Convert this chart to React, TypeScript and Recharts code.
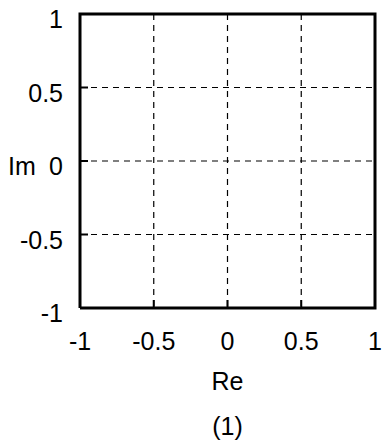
import React from "react";
import {
  ScatterChart,
  Scatter,
  XAxis,
  YAxis,
  CartesianGrid,
} from "recharts";

const reTicks = [-1, -0.5, 0, 0.5, 1];
const imTicks = [-1, -0.5, 0, 0.5, 1];
// plot frame, traced round the corners of the unit square
const frameRe = [-1, 1, 1, -1, -1];
const frameIm = [-1, -1, 1, 1, -1];
const frame = frameRe.map((re, i) => ({ re, im: frameIm[i] }));

const FONT = "'Liberation Sans', Arial, sans-serif";
const FS = 25;
const TICK_LEN = 8;

const BottomTick = (props: any) => {
  const { x, y, payload } = props;
  return (
    <g>
      <line x1={x} x2={x} y1={y} y2={y - TICK_LEN} stroke="#000" strokeWidth={2} />
      <text x={x} y={y + 33} textAnchor="middle" dominantBaseline="central" fontSize={FS} fontFamily={FONT} fill="#000">
        {payload.value}
      </text>
    </g>
  );
};

const TopTick = (props: any) => {
  const { x, y } = props;
  return <line x1={x} x2={x} y1={y} y2={y + TICK_LEN} stroke="#000" strokeWidth={2} />;
};

const LeftTick = (props: any) => {
  const { x, y, payload } = props;
  return (
    <g>
      <line x1={x} x2={x + TICK_LEN} y1={y} y2={y} stroke="#000" strokeWidth={2} />
      <text x={x - 17} y={y + 5} textAnchor="end" dominantBaseline="central" fontSize={FS} fontFamily={FONT} fill="#000">
        {payload.value}
      </text>
      {payload.value === 0 && (
        <text x={x - 72} y={y + 5} textAnchor="start" dominantBaseline="central" fontSize={FS} fontFamily={FONT} fill="#000">
          Im
        </text>
      )}
    </g>
  );
};

const RightTick = (props: any) => {
  const { x, y } = props;
  return <line x1={x} x2={x - TICK_LEN} y1={y} y2={y} stroke="#000" strokeWidth={2} />;
};

const XTitle = (props: any) => {
  const vb = props.viewBox || {};
  const cx = vb.x + vb.width / 2;
  return (
    <g>
      <text x={cx} y={381} textAnchor="middle" dominantBaseline="central" fontSize={FS} fontFamily={FONT} fill="#000">
        Re
      </text>
      <text x={cx} y={426} textAnchor="middle" dominantBaseline="central" fontSize={FS} fontFamily={FONT} fill="#000">
        (1)
      </text>
    </g>
  );
};

const NoDot = () => null;

export default function App() {
  return (
    <div style={{ position: "absolute", left: 0, top: 0, width: 384, height: 441, background: "#fff" }}>
      <ScatterChart width={384} height={441} margin={{ top: 14, right: 9, left: 0, bottom: 0 }}>
        <CartesianGrid
          xAxisId="re"
          yAxisId="im"
          stroke="#000"
          strokeDasharray="6 5"
          strokeWidth={1.2}
        />
        <XAxis
          xAxisId="re"
          type="number"
          dataKey="re"
          domain={[-1, 1]}
          ticks={reTicks}
          height={133}
          axisLine={false}
          tickLine={false}
          tickSize={0}
          tickMargin={0}
          tick={<BottomTick />}
          interval={0}
          label={<XTitle />}
        />
        <XAxis
          xAxisId="top"
          orientation="top"
          type="number"
          dataKey="re"
          domain={[-1, 1]}
          ticks={reTicks}
          height={0}
          axisLine={false}
          tickLine={false}
          tickSize={0}
          tickMargin={0}
          tick={<TopTick />}
          interval={0}
        />
        <YAxis
          yAxisId="im"
          type="number"
          dataKey="im"
          domain={[-1, 1]}
          ticks={imTicks}
          width={80}
          axisLine={false}
          tickLine={false}
          tickSize={0}
          tickMargin={0}
          tick={<LeftTick />}
          interval={0}
        />
        <YAxis
          yAxisId="right"
          orientation="right"
          type="number"
          dataKey="im"
          domain={[-1, 1]}
          ticks={imTicks}
          width={0}
          axisLine={false}
          tickLine={false}
          tickSize={0}
          tickMargin={0}
          tick={<RightTick />}
          interval={0}
        />
        <Scatter
          xAxisId="top"
          yAxisId="right"
          data={frame}
          shape={<NoDot />}
          isAnimationActive={false}
        />
        <Scatter
          xAxisId="re"
          yAxisId="im"
          data={frame}
          line={{ stroke: "#000", strokeWidth: 3 }}
          shape={<NoDot />}
          isAnimationActive={false}
        />
      </ScatterChart>
    </div>
  );
}
